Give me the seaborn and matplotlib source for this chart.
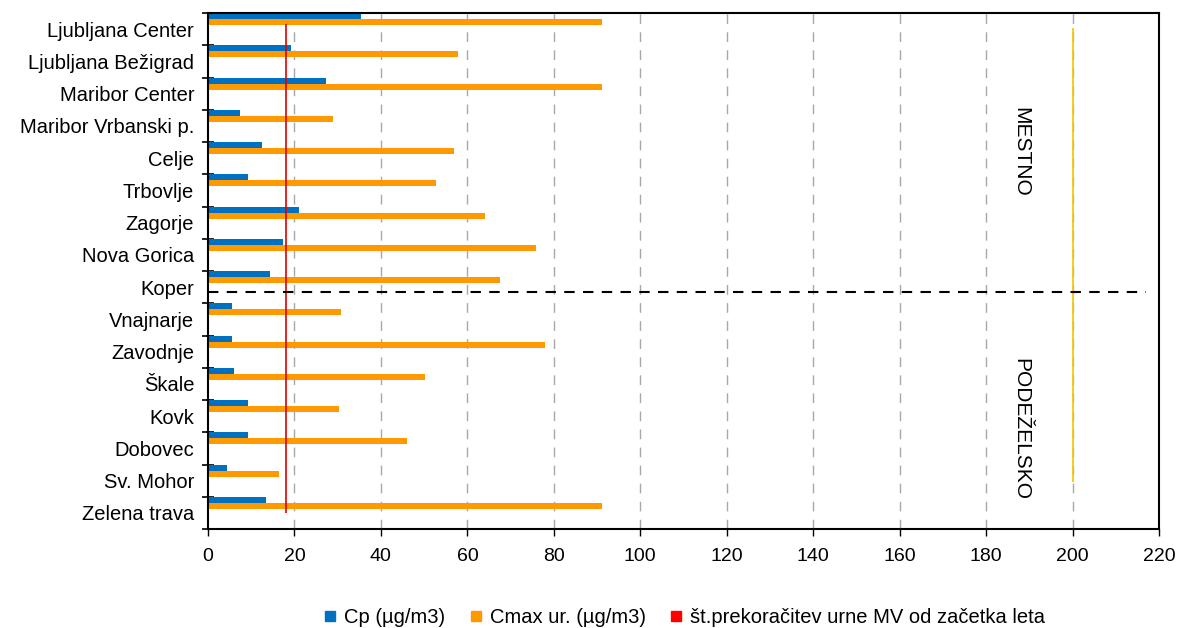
import matplotlib
matplotlib.use("Agg")
import matplotlib.pyplot as plt
import numpy as np
import pandas as pd
import seaborn as sns
from matplotlib.lines import Line2D

# data
stations = [
    "Ljubljana Center", "Ljubljana Bežigrad", "Maribor Center", "Maribor Vrbanski p.",
    "Celje", "Trbovlje", "Zagorje", "Nova Gorica", "Koper",
    "Vnajnarje", "Zavodnje", "Škale", "Kovk", "Dobovec", "Sv. Mohor", "Zelena trava",
]
cp = [35.4, 19.1, 27.3, 7.3, 12.4, 9.2, 21.0, 17.3, 14.3,
      5.5, 5.5, 6.0, 9.2, 9.2, 4.3, 13.4]
cmax = [91.1, 57.8, 91.1, 28.9, 56.9, 52.7, 64.1, 75.9, 67.5,
        30.8, 78.0, 50.2, 30.3, 46.0, 16.4, 91.1]
exceed = [0] * 16

series_names = ["Cp (µg/m3)", "Cmax ur. (µg/m3)", "št.prekoračitev urne MV od začetka leta"]
colors = ["#0070C0", "#FF9900", "#FF0000"]

limit_value = 18      # red vertical line
alarm_value = 200     # yellow vertical line

df = pd.DataFrame({
    "station": stations * 3,
    "value": cp + cmax + exceed,
    "series": [series_names[0]] * 16 + [series_names[1]] * 16 + [series_names[2]] * 16,
})

sns.set_theme(style="white")
plt.rcParams["font.family"] = ["Liberation Sans", "DejaVu Sans"]
plt.rcParams["text.color"] = "black"
plt.rcParams["xtick.color"] = "black"
plt.rcParams["ytick.color"] = "black"

fig = plt.figure(figsize=(11.8, 6.28), dpi=100)
ax = fig.add_axes([0.1763, 0.1576, 0.8059, 0.8217])

sns.barplot(
    data=df, x="value", y="station", hue="series", orient="h",
    palette=colors, width=0.56, dodge=True, ax=ax, legend=False,
    saturation=1, errorbar=None,
)
# Excel places the group at the top of each category band
for p in ax.patches:
    p.set_y(p.get_y() - 0.22)
    p.set_edgecolor("none")

ax.set_xlim(0, 220)
ax.set_ylim(15.5, -0.5)
ax.set_xticks(np.arange(0, 221, 20))
ax.set_xlabel("")
ax.set_ylabel("")

# gridlines
for gx in range(20, 201, 20):
    ax.axvline(gx, color="#A8A8A8", lw=1, linestyle=(0, (7, 6)), zorder=0)

ax.vlines(limit_value, -0.16, 15.0, color="#E00000", lw=1.2, zorder=4)
ax.vlines(alarm_value, -0.03, 14.05, color="#F5C400", lw=1.2, zorder=4)
ax.hlines(8.15, 0, 217, color="black", lw=1.5, linestyle=(0, (5, 4)), zorder=5)

ax.text(188.0, 3.8, "MESTNO", rotation=-90, ha="center", va="center", fontsize=15)
ax.text(188.0, 12.4, "PODEŽELSKO", rotation=-90, ha="center", va="center", fontsize=15)

for s in ax.spines.values():
    s.set_visible(True)
    s.set_color("black")
    s.set_linewidth(1.5)

ax.tick_params(axis="x", which="major", direction="out", length=5, width=1,
               color="black", labelsize=14, pad=9, bottom=True)
ax.tick_params(axis="y", which="major", length=0, labelsize=14.5, pad=10)
ax.set_yticks(np.arange(-0.5, 16, 1), minor=True)
ax.tick_params(axis="y", which="minor", direction="inout", length=9, width=1.2,
               color="black", left=True)

handles = [Line2D([], [], marker="s", linestyle="none", color=c, markersize=7)
           for c in colors]
ax.legend(handles, series_names, loc="center", bbox_to_anchor=(0.5, -0.172),
          ncol=3, frameon=False, fontsize=14.5, handletextpad=0.3,
          columnspacing=1.1, handlelength=0.8)

fig.savefig("out.png", dpi=100)
